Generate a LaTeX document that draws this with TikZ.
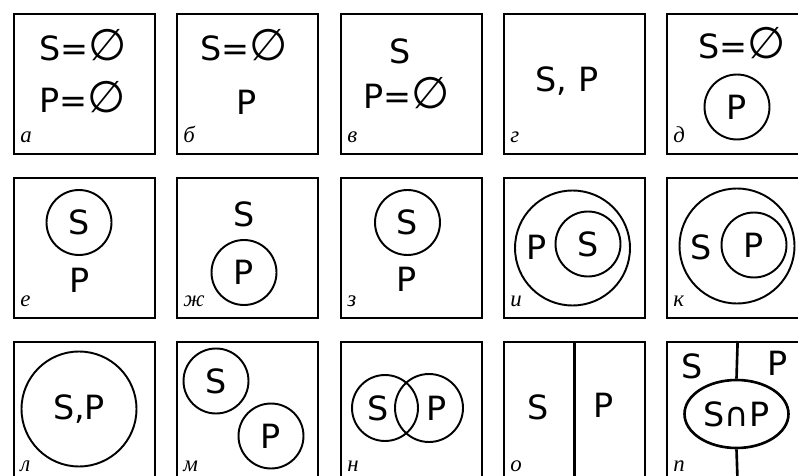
\documentclass[tikz,border=0pt]{standalone}
\usepackage{fontspec}
\setmainfont{DejaVu Sans}
\newfontfamily\tagfont{Liberation Serif}
\usetikzlibrary{shapes.geometric}
\newcommand\nullset{{\fontsize{25}{25}\selectfont ∅}}
\tikzset{
  panel/.style={draw,line width=1.3pt,minimum width=2.82cm,minimum height=2.8cm,anchor=north west,inner sep=0pt},
  setname/.style={font=\fontsize{19}{19}\selectfont,inner sep=0pt},
  ring/.style={draw,circle,line width=1.1pt,inner sep=0pt,font=\fontsize{19}{19}\selectfont},
  smallring/.style={ring,minimum size=1.3cm},
  bigring/.style={ring,minimum size=2.3cm},
  tag/.style={font=\tagfont\itshape\fontsize{13}{13}\selectfont,anchor=base west,inner sep=0pt}
}
\begin{document}
\begin{tikzpicture}[x=0.02cm,y=-0.02cm]
  \clip (0,0) rectangle (798,476);
  \fill[white] (0,0) rectangle (798,476);
  % row 1
  \begin{scope}[shift={(13,13)}]
    \node[panel] (pa) at (0,0) {};
    \node[setname] (aS) at (70,32) {S=\nullset};
    \node[setname] (aP) at (70,84) {P=\nullset};
    \node[tag] at (7,130) {а};
  \end{scope}
  \begin{scope}[shift={(176,13)}]
    \node[panel] (pb) at (0,0) {};
    \node[setname] (bS) at (68,32) {S=\nullset};
    \node[setname] (bP) at (71,89) {P};
    \node[tag] at (7,130) {б};
  \end{scope}
  \begin{scope}[shift={(340,13)}]
    \node[panel] (pv) at (0,0) {};
    \node[setname] (vS) at (60,38) {S};
    \node[setname] (vP) at (67,80) {P=\nullset};
    \node[tag] at (7,130) {в};
  \end{scope}
  \begin{scope}[shift={(503,13)}]
    \node[panel] (pg) at (0,0) {};
    \node[setname] (gSP) at (64,68) {S, P};
    \node[tag] at (7,130) {г};
  \end{scope}
  \begin{scope}[shift={(666,13)}]
    \node[panel] (pd) at (0,0) {};
    \node[setname] (dS) at (76,30) {S=\nullset};
    \node[smallring] (dP) at (71,94) {P};
    \node[tag] at (7,130) {д};
  \end{scope}
  % row 2
  \begin{scope}[shift={(13,177)}]
    \node[panel] (pe) at (0,0) {};
    \node[smallring] (eS) at (66,45.5) {S};
    \node[setname] (eP) at (67,103) {P};
    \node[tag] at (7,130) {е};
  \end{scope}
  \begin{scope}[shift={(176,177)}]
    \node[panel] (pzh) at (0,0) {};
    \node[setname] (zhS) at (68,37) {S};
    \node[smallring] (zhP) at (68,95.5) {P};
    \node[tag] at (7,130) {ж};
  \end{scope}
  \begin{scope}[shift={(340,177)}]
    \node[panel] (pz) at (0,0) {};
    \node[smallring] (zS) at (67.5,45.5) {S};
    \node[setname] (zP) at (67,102) {P};
    \node[tag] at (7,130) {з};
  \end{scope}
  \begin{scope}[shift={(503,177)}]
    \node[panel] (pi) at (0,0) {};
    \node[bigring] (iP) at (69.5,71) {};
    \node[smallring] (iS) at (85,67) {S};
    \node[setname] at (34,70) {P};
    \node[tag] at (7,130) {и};
  \end{scope}
  \begin{scope}[shift={(666,177)}]
    \node[panel] (pk) at (0,0) {};
    \node[bigring] (kS) at (71,69) {};
    \node[smallring] (kP) at (88,68) {P};
    \node[setname] at (35,70) {S};
    \node[tag] at (7,130) {к};
  \end{scope}
  % row 3
  \begin{scope}[shift={(13,341)}]
    \node[panel] (pl) at (0,0) {};
    \node[bigring] (lSP) at (66,68) {S,P};
    \node[tag] at (7,130) {л};
  \end{scope}
  \begin{scope}[shift={(176,341)}]
    \node[panel] (pm) at (0,0) {};
    \node[smallring] (mS) at (40,40) {S};
    \node[smallring] (mP) at (95,95) {P};
    \node[tag] at (7,130) {м};
  \end{scope}
  \begin{scope}[shift={(340,341)}]
    \node[panel] (pn) at (0,0) {};
    \node[ring,minimum size=1.32cm] (nS) at (45,67) {};
    \node[ring,minimum size=1.36cm] (nP) at (89,67) {};
    \node[setname] at (38,67) {S};
    \node[setname] at (97,67) {P};
    \node[tag] at (7,130) {н};
  \end{scope}
  \begin{scope}[shift={(503,341)}]
    \node[panel] (po) at (0,0) {};
    \draw[line width=1.3pt] (po.north) -- (po.south);
    \node[setname] (oS) at (35,66) {S};
    \node[setname] (oP) at (101,64) {P};
    \node[tag] at (7,130) {о};
  \end{scope}
  \begin{scope}[shift={(666,341)}]
    \node[panel] (pp) at (0,0) {};
    \node[draw,ellipse,line width=1.5pt,inner sep=0pt,minimum width=2.08cm,minimum height=1.36cm,font=\fontsize{19}{19}\selectfont] (ppSP) at (70.5,73) {S∩P};
    \draw[line width=1.5pt] (pp.north) -- (ppSP.north);
    \draw[line width=1.5pt] (ppSP.south) -- (pp.south);
    \node[setname] (ppS) at (26,25) {S};
    \node[setname] (ppP) at (112,22) {P};
    \node[tag] at (7,130) {п};
  \end{scope}
\end{tikzpicture}
\end{document}
